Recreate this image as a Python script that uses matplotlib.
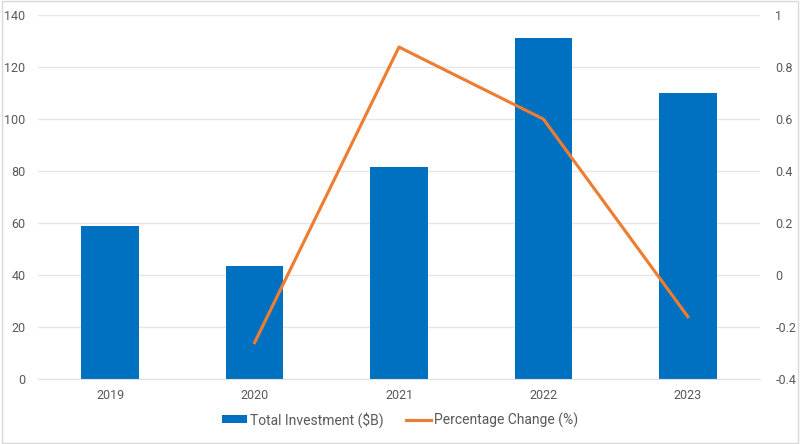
import matplotlib
matplotlib.use('Agg')
from matplotlib import pyplot as plt
from matplotlib.patches import Rectangle

years = ['2019', '2020', '2021', '2022', '2023']
investment = [58.8, 43.5, 81.6, 131.2, 110.2]
pct_years = ['2020', '2021', '2022', '2023']
pct_change = [-0.26, 0.877, 0.6, -0.16]

plt.rcParams['font.family'] = ['Roboto', 'DejaVu Sans']
text_col = '#595959'

fig = plt.figure(figsize=(8, 4.44), dpi=100)
ax = fig.add_axes([0.0475, 0.1464, 0.9025, 0.8196])
x = list(range(len(years)))
bars = ax.bar(x, investment, width=0.4, color='#0070C0', zorder=2, label='Total Investment ($B)')
ax.set_xlim(-0.5, 4.5)
ax.set_ylim(0, 140)
ax.set_yticks(range(0, 141, 20))
ax.set_xticks(x)
ax.set_xticklabels(years)
ax.grid(axis='y', color='#E6E6E6', linewidth=1, zorder=0)
ax.set_axisbelow(True)
for s in ['top', 'right', 'left']:
    ax.spines[s].set_visible(False)
ax.spines['bottom'].set_color('#E0E0E0')
ax.tick_params(length=0, colors=text_col, labelsize=9, pad=7)
ax.tick_params(axis='y', pad=9)

ax2 = ax.twinx()
px = [years.index(y) for y in pct_years]
line, = ax2.plot(px, pct_change, color='#ED7D31', linewidth=2.25, label='Percentage Change (%)')
ax2.set_ylim(-0.4, 1)
ax2.set_yticks([-0.4, -0.2, 0, 0.2, 0.4, 0.6, 0.8, 1])
ax2.set_yticklabels(['-0.4', '-0.2', '0', '0.2', '0.4', '0.6', '0.8', '1'])
for s in ax2.spines.values():
    s.set_visible(False)
ax2.tick_params(length=0, colors=text_col, labelsize=9, pad=11)

leg = fig.legend([bars, line], ['Total Investment ($B)', 'Percentage Change (%)'],
                 loc='center', bbox_to_anchor=(0.5, 0.055), ncol=2, frameon=False,
                 fontsize=10, handlelength=1.8, handleheight=0.5, columnspacing=1.6,
                 handletextpad=0.25)
for t in leg.get_texts():
    t.set_color(text_col)

fig.patches.append(Rectangle((0.002, 0.003), 0.996, 0.994, transform=fig.transFigure,
                             fill=False, edgecolor='#D9D9D9', linewidth=1))
fig.savefig('out.png', dpi=100)
